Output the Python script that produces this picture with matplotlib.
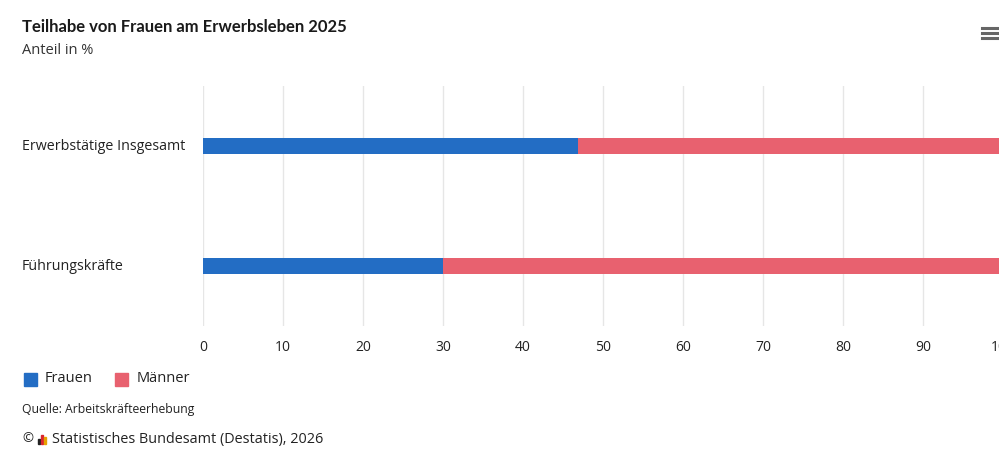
import matplotlib.pyplot as plt
from matplotlib.lines import Line2D
from matplotlib.patches import Rectangle

categories = ["Erwerbstätige Insgesamt", "Führungskräfte"]
frauen = [46.9, 30.0]
maenner = [53.1, 70.0]
xticks = [0, 10, 20, 30, 40, 50, 60, 70, 80, 90, 100]

blue = "#236dc4"
red = "#e8616f"
W, H = 999, 459

plt.rcParams['font.family'] = ['Open Sans', 'DejaVu Sans']

fig = plt.figure(figsize=(W / 100, H / 100), dpi=100)
# axes spans x 203..1003 px, y 86..326 px (right edge runs off the figure like the original)
ax = fig.add_axes([203 / W, 1 - 326 / H, 800 / W, 240 / H])

ypos = list(range(len(categories)))
ax.barh(ypos, frauen, height=0.14, color=blue, label="Frauen")
ax.barh(ypos, maenner, left=frauen, height=0.14, color=red, label="Männer")

ax.set_xlim(0, 100)
ax.set_ylim(1.5, -0.5)
ax.set_xticks(xticks)
ax.set_xticklabels([str(t) for t in xticks], fontsize=10, color="#222222")
ax.set_yticks(ypos)
ax.set_yticklabels([])
ax.tick_params(axis="both", length=0, pad=10)
ax.grid(axis="x", color="#e6e6e6", linewidth=1)
ax.set_axisbelow(True)
for s in ax.spines.values():
    s.set_visible(False)

# category labels left-aligned at the figure margin
for y, c in zip(ypos, categories):
    ax.annotate(c, xy=(22 / W, y), xycoords=("figure fraction", "data"),
                ha="left", va="center", fontsize=10.3, color="#222222")

# title and subtitle
fig.text(22 / W, 1 - 27 / H, "Teilhabe von Frauen am Erwerbsleben 2025",
         fontsize=12, fontweight="bold", color="#1a1a1a", ha="left", va="center",
         family=["Lato", "DejaVu Sans"])
fig.text(22 / W, 1 - 51 / H, "Anteil in %", fontsize=10.5, color="#333333",
         ha="left", va="center")

# legend
fig.add_artist(Rectangle((24 / W, 1 - 386 / H), 13 / W, 13 / H, color=blue,
                         transform=fig.transFigure))
fig.text(45 / W, 1 - 379 / H, "Frauen", fontsize=10.5, color="#222222", va="center")
fig.add_artist(Rectangle((115 / W, 1 - 386 / H), 13 / W, 13 / H, color=red,
                         transform=fig.transFigure))
fig.text(137 / W, 1 - 379 / H, "Männer", fontsize=10.5, color="#222222", va="center")

# credits
fig.text(22 / W, 1 - 410 / H, "Quelle: Arbeitskräfteerhebung", fontsize=8.8,
         color="#222222", va="center")
fig.text(22 / W, 1 - 439 / H, "©", fontsize=9.5, color="#222222", va="center")
for i, (hgt, col) in enumerate([(5, "#222222"), (9, "#d9262e"), (7, "#e6a100")]):
    fig.add_artist(Rectangle(((38 + i * 3) / W, 1 - 444 / H), 2 / W, hgt / H,
                             color=col, transform=fig.transFigure))
fig.text(52 / W, 1 - 439 / H, "Statistisches Bundesamt (Destatis), 2026",
         fontsize=10.4, color="#222222", va="center")

# menu icon
for dy in (-5, 0, 5):
    fig.add_artist(Line2D([982 / W, 999 / W], [1 - (33 + dy) / H] * 2,
                          color="#666666", linewidth=2.2))

fig.savefig("out.png", dpi=100, facecolor="white")
